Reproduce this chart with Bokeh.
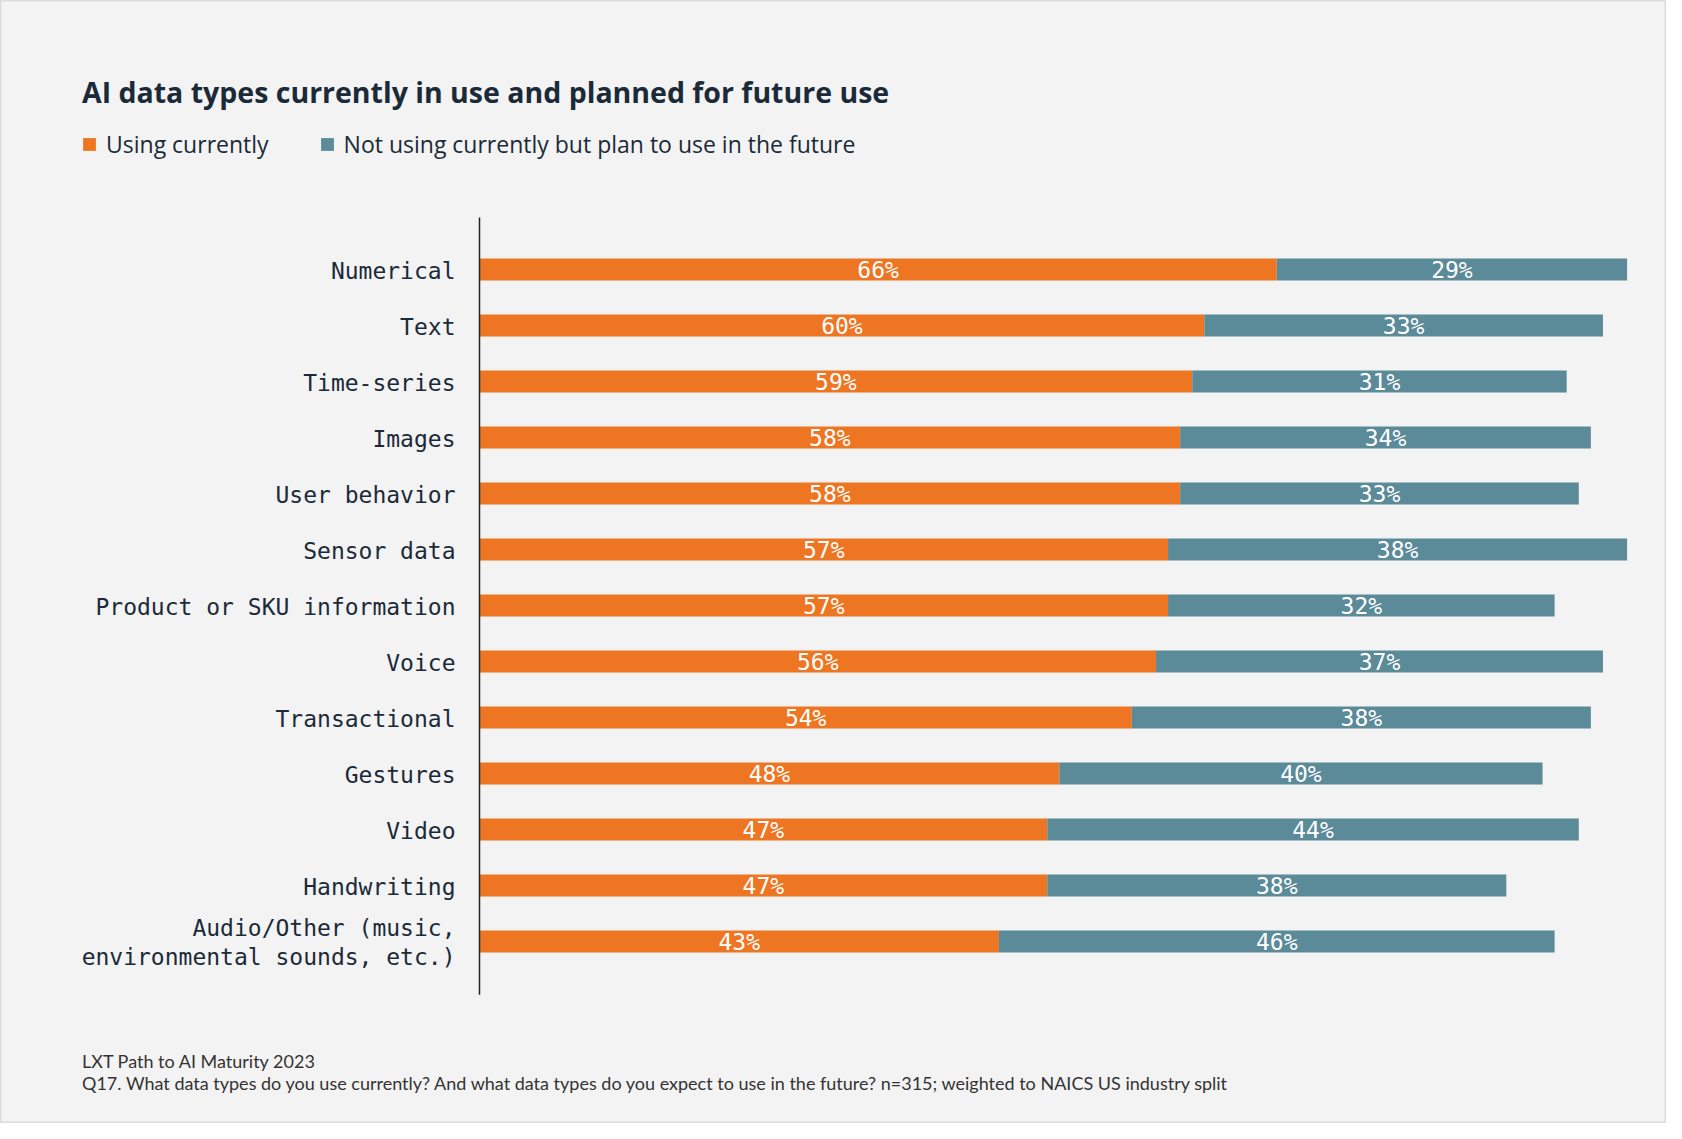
from bokeh.plotting import figure
from bokeh.models import ColumnDataSource, Range1d, Label, Legend, LegendItem
from bokeh.core.properties import value
from bokeh.embed import file_html
from bokeh.resources import INLINE

# ---- data ----
categories = ["Numerical", "Text", "Time-series", "Images", "User behavior",
              "Sensor data", "Product or SKU information", "Voice",
              "Transactional", "Gestures", "Video", "Handwriting",
              "Audio/Other (music,\nenvironmental sounds, etc.)"]
using_now = [66, 60, 59, 58, 58, 57, 57, 56, 54, 48, 47, 47, 43]
plan_future = [29, 33, 31, 34, 33, 38, 32, 37, 38, 40, 44, 38, 46]
series_names = ["Using currently", "Not using currently but plan to use in the future"]
title_text = "AI data types currently in use and planned for future use"
source_note = "LXT Path to AI Maturity 2023"
question_note = ("Q17. What data types do you use currently? And what data types do you "
                 "expect to use in the future? n=315; weighted to NAICS US industry split")

ORANGE = "#EE7623"
TEAL = "#5B8A99"
BG = "#F3F3F3"
DARK = "#1B2A38"

rows = list(range(len(categories)))
src = ColumnDataSource(dict(
    row=rows,
    cat=categories,
    zero=[0] * len(rows),
    using=using_now,
    plan=plan_future,
    end=[a + b for a, b in zip(using_now, plan_future)],
    using_mid=[a / 2 for a in using_now],
    plan_mid=[a + b / 2 for a, b in zip(using_now, plan_future)],
    using_lbl=[f"{a}%" for a in using_now],
    plan_lbl=[f"{b}%" for b in plan_future],
))

W, H = 1666, 1123
PX_PER_PCT = 12.08     # horizontal scale
ROW_PX = 56.0          # row pitch
X0_PX = 479.0          # position of the value axis (x = 0)
Y0_PX = 269.0          # centre of first row

p = figure(width=W, height=H, output_backend="svg", toolbar_location=None,
           x_range=Range1d(-X0_PX / PX_PER_PCT, (W - X0_PX) / PX_PER_PCT),
           y_range=Range1d((H - Y0_PX) / ROW_PX, -Y0_PX / ROW_PX),
           x_axis_location=None, y_axis_location=None,
           min_border=0)
p.background_fill_color = BG
p.border_fill_color = BG
p.outline_line_color = "#DDDDDD"
p.outline_line_width = 2
p.grid.visible = False

r1 = p.hbar(y="row", left="zero", right="using", height=0.39, source=src,
            fill_color=ORANGE, line_color=None)
r2 = p.hbar(y="row", left="using", right="end", height=0.39, source=src,
            fill_color=TEAL, line_color=None)

# value axis line
p.segment(x0=[0], y0=[-0.93], x1=[0], y1=[len(categories) - 0.05],
          line_color="#222222", line_width=1.5)

# category labels
p.text(x="zero", y="row", text="cat", source=src, x_offset=-24, y_offset=1,
       text_align="right", text_baseline="middle", text_color=DARK,
       text_font=value("DejaVu Sans Mono"), text_font_size="23px",
       text_line_height=1.15)

# value labels
for xcol, tcol in (("using_mid", "using_lbl"), ("plan_mid", "plan_lbl")):
    p.text(x=xcol, y="row", text=tcol, source=src, text_color="white",
           text_align="center", text_baseline="middle",
           text_font=value("DejaVu Sans Mono"), text_font_size="23px")

legend = Legend(items=[LegendItem(label=series_names[0], renderers=[r1]),
                       LegendItem(label=series_names[1], renderers=[r2])],
                orientation="horizontal", location=(81, 963),
                glyph_width=16, glyph_height=16, label_standoff=9, spacing=50,
                padding=0, margin=0, border_line_color=None,
                background_fill_alpha=0, label_text_font="Open Sans",
                label_text_font_size="23px", label_text_color=DARK)
p.add_layout(legend)

p.add_layout(Label(x=81.5, y=H - 91.5, x_units="screen", y_units="screen",
                   text=title_text, text_font="Open Sans", text_font_style="bold",
                   text_font_size="28.5px", text_color=DARK,
                   text_baseline="alphabetic"))
p.add_layout(Label(x=81.5, y=H - 1060, x_units="screen", y_units="screen",
                   text=source_note, text_font="Lato", text_font_size="18px",
                   text_color="#333333", text_baseline="middle"))
p.add_layout(Label(x=81.5, y=H - 1082.5, x_units="screen", y_units="screen",
                   text=question_note, text_font="Lato", text_font_size="18px",
                   text_color="#333333", text_baseline="middle"))

open("out.html", "w").write(file_html(p, INLINE))
